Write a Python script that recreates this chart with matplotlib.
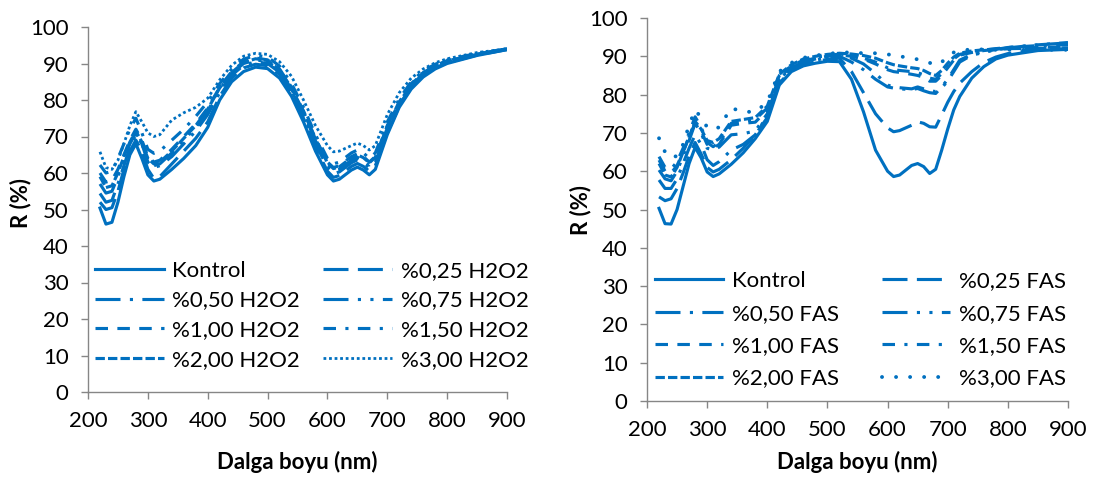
import matplotlib
matplotlib.use("Agg")
import matplotlib.pyplot as plt

plt.rcParams['font.family'] = ['Lato', 'DejaVu Sans']

BLUE = '#0070C0'
GRAY = '#868686'

# ---------------- data ----------------
wl_left = [220, 230, 240, 250, 260, 270, 280, 290, 300, 310, 320, 340, 360, 380, 400,
           420, 440, 460, 480, 500, 520, 540, 560, 580, 600, 610, 620, 640, 650, 660,
           670, 680, 700, 720, 740, 760, 780, 800, 850, 900]

left_kontrol = [50.4, 46, 46.5, 52, 59, 65, 68, 64, 59.5, 57.8, 58.3, 61, 64, 67.5, 72.5,
                80, 85, 87.8, 89, 88.6, 86, 81, 74, 66, 59.5, 57.8, 58.3, 60.8, 61.6, 60.8,
                59.5, 61, 70.5, 78, 83, 86.3, 88.5, 90, 92.2, 93.8]
left_025 = [52, 50, 50.5, 55, 61, 66, 69, 66, 61, 58.5, 59, 62.5, 66, 69.5, 74,
            81, 86, 88.8, 89.8, 89.4, 87, 82, 75, 67, 60.5, 58.8, 59.3, 61.8, 62.6, 61.8,
            60.5, 62, 71, 78.3, 83.5, 86.8, 88.8, 90.2, 92.3, 93.8]
left_050 = [54.4, 52, 52.5, 57, 62, 67, 70.5, 68, 63, 61.5, 62, 64.5, 68, 71.5, 76,
            82, 86.8, 89.5, 90.5, 90, 87.6, 82.6, 75.8, 68, 61.5, 59.8, 60.3, 62.8, 63.6, 62.8,
            61.5, 63, 71.8, 78.6, 83.8, 87, 89, 90.4, 92.4, 93.9]
left_075 = [57, 54.5, 55, 59, 63.5, 68, 71, 68, 63.5, 62, 62.5, 65.5, 69, 72.5, 77,
            83, 87.3, 90, 91, 90.5, 88, 83, 76.5, 68.8, 62.2, 60.5, 61, 63.5, 64.3, 63.5,
            62.2, 63.7, 72.3, 79, 84, 87.2, 89.2, 90.6, 92.5, 93.9]
left_100 = [60, 57.5, 58, 61, 65, 69, 72, 69, 64.5, 63, 63.5, 66.5, 70, 73.5, 77.8,
            83.5, 87.8, 90.5, 91.5, 91, 88.5, 83.5, 77, 69.5, 63, 61.5, 62, 64.5, 65.3, 64.5,
            63, 64.5, 73, 79.5, 84.5, 87.5, 89.4, 90.8, 92.6, 94]
left_150 = [62.2, 60, 60.5, 64, 68, 72, 75, 71, 66.5, 65.4, 66, 69, 72, 75.5, 79.5,
            84.5, 88.5, 91.2, 92.2, 91.8, 89.3, 84.5, 78, 70.5, 64, 62.5, 63, 65.5, 66.3, 65.5,
            64, 65.5, 74, 80.3, 85, 88, 89.8, 91, 92.8, 94]
left_200 = [59, 56, 56.5, 60, 64.5, 68.5, 71.5, 68.5, 64, 62.5, 63, 66, 69.5, 73, 77.5,
            83.3, 87.5, 90.3, 91.3, 90.8, 88.3, 83.3, 76.8, 69.3, 62.8, 61.2, 61.7, 64.2, 65, 64.2,
            62.8, 64.3, 72.8, 79.3, 84.3, 87.4, 89.3, 90.7, 92.6, 94]
left_300 = [65.8, 61.5, 61, 63.5, 68, 73, 76.8, 74, 71, 70, 70.5, 74.5, 76.5, 78, 80.5,
            85.5, 89.5, 92, 92.8, 92.5, 90.5, 86.5, 80, 73, 67.5, 65.8, 66, 67.5, 68.2, 67.5,
            66.3, 67.5, 76, 82, 86, 88.5, 90.2, 91.3, 93, 94]

wl_right = [220, 230, 240, 250, 260, 270, 280, 290, 300, 310, 320, 340, 360, 380, 400,
            420, 440, 460, 480, 500, 520, 540, 560, 580, 600, 610, 620, 640, 650, 660,
            670, 680, 690, 700, 710, 720, 740, 760, 780, 800, 850, 900]

right_kontrol = [50.3, 46.3, 46.2, 50, 56, 62, 66.2, 63.5, 59.8, 58.6, 59.3, 61.8, 64.8, 68.5, 73,
                 82.5, 86, 87.5, 88.2, 88.7, 88.6, 84, 75.5, 65.5, 60, 58.6, 59, 61.5, 62, 61.2,
                 59.4, 60.5, 65.5, 71, 76, 79.5, 84.3, 87.3, 89.3, 90.3, 91.5, 91.8]
right_025 = [53.3, 52.3, 52.8, 55.5, 59.5, 64, 67.5, 64.5, 61, 59.8, 60.5, 63, 66, 69.5, 74,
             83, 86.3, 87.8, 88.6, 89.2, 89.5, 86, 80.5, 75, 71.3, 70.3, 70.6, 72, 72.9, 72.5,
             71.6, 71.5, 74.7, 78, 80.8, 83, 86, 88.4, 89.8, 90.7, 91.8, 92]
right_050 = [57.7, 55.5, 55.5, 58, 62, 66, 69.5, 67, 63, 61.5, 62.5, 65.5, 67, 69.5, 74.5,
             83.5, 86.8, 88.3, 89, 89.6, 90, 88.5, 86.5, 84, 82, 81.7, 81.5, 81.3, 81.6, 81,
             80.5, 80.3, 82, 84, 86.5, 89, 90.5, 91.2, 91.8, 92.3, 93, 93.5]
right_075 = [60.3, 58, 57.5, 60, 64, 68, 72.5, 70, 66, 65.5, 66.3, 69.5, 69.8, 70.5, 75,
             84, 87, 88.5, 89.3, 89.8, 90.3, 89.5, 88, 85.5, 82.5, 82, 81.8, 81.5, 82, 81.5,
             81, 80.8, 81.8, 83.5, 86, 88.5, 90.3, 91, 91.7, 92.2, 93, 93.6]
right_100 = [62.9, 60, 59.5, 61.5, 65, 69, 72.5, 70.5, 67, 66, 67, 72, 72.5, 72.8, 76,
             84.5, 87.3, 88.8, 89.5, 90, 90.4, 90, 89.3, 88, 86.5, 86, 85.8, 85.3, 85, 84.5,
             83.5, 83.5, 85, 87, 89, 90.3, 91, 91.5, 91.8, 92, 92.3, 92.5]
right_150 = [63.8, 61, 60.5, 62.5, 66, 70, 74.2, 71.5, 67.5, 66.4, 67.5, 72.5, 73, 73.5, 76.5,
             85, 87.5, 89, 89.7, 90.2, 90.6, 90.2, 89.5, 88.5, 87, 86.5, 86.3, 86, 85.7, 85.2,
             84.3, 84, 85.5, 87.5, 89.3, 90.5, 91.2, 91.6, 92, 92.3, 92.8, 93]
right_200 = [62, 59, 58.5, 61, 65, 69, 73, 71, 68, 67.5, 68.5, 73, 73.5, 74, 77,
             85.3, 87.8, 89.3, 90, 90.5, 90.8, 90.6, 90.2, 89.5, 88.3, 87.8, 87.5, 87, 86.8, 86.3,
             85.5, 85, 86.3, 88.2, 89.8, 90.8, 91.4, 91.7, 91.9, 92, 92.1, 92.2]
right_300 = [68.6, 65, 63.5, 64, 67, 72, 76, 74, 71.5, 70.8, 71.5, 76.5, 75.5, 75.5, 78,
             86, 88.3, 89.6, 90.2, 90.6, 91, 91, 90.8, 90.8, 90.5, 90.3, 90, 89.5, 89.2, 88.8,
             88.3, 87.7, 88.5, 89.8, 91, 91.5, 91.8, 91.8, 91.7, 91.7, 91.7, 91.7]

labels_left = ['Kontrol', '%0,25 H2O2', '%0,50 H2O2', '%0,75 H2O2',
               '%1,00 H2O2', '%1,50 H2O2', '%2,00 H2O2', '%3,00 H2O2']
labels_right = ['Kontrol', '%0,25 FAS', '%0,50 FAS', '%0,75 FAS',
                '%1,00 FAS', '%1,50 FAS', '%2,00 FAS', '%3,00 FAS']

x_ticks = [200, 300, 400, 500, 600, 700, 800, 900]
y_ticks = [0, 10, 20, 30, 40, 50, 60, 70, 80, 90, 100]

# ---------------- styles ----------------
LW = 2.25
FS = 16

styles_left = [
    dict(linestyle='-', lw=LW),
    dict(linestyle=(0, (8, 3)), lw=LW),
    dict(linestyle=(0, (8, 3, 1, 3)), lw=LW),
    dict(linestyle=(0, (8, 3, 1, 3, 1, 3)), lw=LW),
    dict(linestyle=(0, (4, 3)), lw=LW),
    dict(linestyle=(0, (4, 3, 1, 3)), lw=LW),
    dict(linestyle=(0, (3, 1)), lw=LW),
    dict(linestyle=(0, (1, 1)), lw=2.0),
]
styles_right = [dict(s) for s in styles_left]
styles_right[7] = dict(linestyle=(0, (0.01, 3.6)), dash_capstyle='round', lw=2.8)

fig = plt.figure(figsize=(10.97, 4.8), dpi=100)
axL = fig.add_axes([88 / 1097, 1 - 392 / 480, 419 / 1097, 365 / 480])
axR = fig.add_axes([647 / 1097, 1 - 401 / 480, 421 / 1097, 383 / 480])


def style_axes(ax, ylab_xy, xlab_xy):
    ax.set_xlim(200, 900)
    ax.set_ylim(0, 100)
    ax.set_xticks(x_ticks)
    ax.set_yticks(y_ticks)
    for s in ['top', 'right']:
        ax.spines[s].set_visible(False)
    for s in ['left', 'bottom']:
        ax.spines[s].set_color(GRAY)
        ax.spines[s].set_linewidth(1.0)
    ax.tick_params(axis='both', direction='out', length=5, width=1.0, color=GRAY,
                   labelsize=FS, labelcolor='black', pad=9)
    ax.set_xlabel('Dalga boyu (nm)', fontsize=FS, fontweight='bold')
    ax.set_ylabel('R (%)', fontsize=FS, fontweight='bold')
    ax.xaxis.label.set_verticalalignment('center')
    ax.yaxis.label.set_verticalalignment('center')
    ax.xaxis.set_label_coords(*xlab_xy)
    ax.yaxis.set_label_coords(*ylab_xy)


series_left = [left_kontrol, left_025, left_050, left_075, left_100, left_150, left_200, left_300]
series_right = [right_kontrol, right_025, right_050, right_075, right_100, right_150, right_200, right_300]

for vals, lab, st in zip(series_left, labels_left, styles_left):
    axL.plot(wl_left, vals, color=BLUE, label=lab, **st)
for vals, lab, st in zip(series_right, labels_right, styles_right):
    axR.plot(wl_right, vals, color=BLUE, label=lab, **st)

style_axes(axL, (-0.162, 0.518), (0.499, -0.192))
style_axes(axR, (-0.159, 0.499), (0.499, -0.159))

# row-major legend order (Excel style) for a 2-column matplotlib legend
order = [0, 2, 4, 6, 1, 3, 5, 7]


def add_legend(ax, anchor, spacing, colsp):
    h, l = ax.get_legend_handles_labels()
    ax.legend([h[i] for i in order], [l[i] for i in order], ncol=2, loc='upper left',
              bbox_to_anchor=anchor, frameon=False, fontsize=FS, handlelength=3.1,
              handletextpad=0.4, columnspacing=colsp, labelspacing=spacing,
              borderpad=0, borderaxespad=0)


add_legend(axL, (0.016, 0.36), 0.44, 1.03)
add_legend(axR, (0.018, 0.339), 0.56, 1.9)

fig.savefig('out.png', dpi=100)
